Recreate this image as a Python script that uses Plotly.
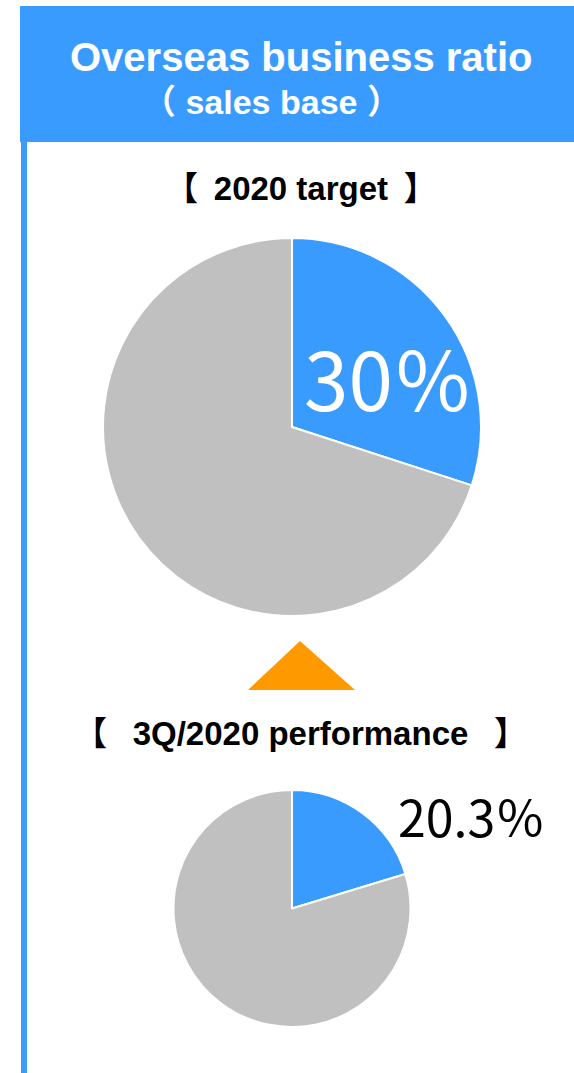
import plotly.graph_objects as go

W, H = 574, 1073

title_line1 = "Overseas business ratio"
title_line2 = "（ sales base ）"
label_target = "【\u2009 2020 target \u2009】"
label_perf = "【\u2002 3Q/2020 performance \u2002】"

segments = ["Overseas", "Domestic"]
target_values = [30, 70]
perf_values = [20.3, 79.7]
target_text = "30％"
perf_text = "20.3％"

BLUE = "#3A9BFF"
GRAY = "#C0C0C0"
ORANGE = "#FF9900"

def px(x):
    return x / W

def py(y):
    return 1 - y / H

fig = go.Figure()

fig.add_trace(go.Pie(
    labels=segments, values=target_values, sort=False, direction="clockwise",
    rotation=0, textinfo="none", hoverinfo="label+percent",
    marker=dict(colors=[BLUE, GRAY], line=dict(color="white", width=2)),
    domain=dict(x=[px(103), px(481)], y=[py(616), py(238)]),
    showlegend=False,
))
fig.add_trace(go.Pie(
    labels=segments, values=perf_values, sort=False, direction="clockwise",
    rotation=0, textinfo="none", hoverinfo="label+percent",
    marker=dict(colors=[BLUE, GRAY], line=dict(color="white", width=2)),
    domain=dict(x=[px(173.5), px(410.5)], y=[py(1027), py(790)]),
    showlegend=False,
))

shapes = [
    dict(type="rect", xref="paper", yref="paper", x0=px(20), x1=1.0, y0=py(142), y1=py(6),
         fillcolor=BLUE, line=dict(width=0), layer="below"),
    dict(type="rect", xref="paper", yref="paper", x0=px(21), x1=px(27), y0=0, y1=py(142),
         fillcolor=BLUE, line=dict(width=0), layer="below"),
    dict(type="path", xref="paper", yref="paper",
         path=f"M {px(248)} {py(690)} L {px(300)} {py(641)} L {px(355)} {py(690)} Z",
         fillcolor=ORANGE, line=dict(width=0)),
]

latin_font = "Liberation Sans, Arial, Noto Sans CJK JP, sans-serif"
cjk_font = "Noto Sans CJK JP, sans-serif"

annotations = [
    dict(text=f"<b>{title_line1}</b>", x=px(301), y=py(57), xref="paper", yref="paper",
         showarrow=False, font=dict(family=latin_font, size=40, color="white"),
         xanchor="center", yanchor="middle"),
    dict(text=f"<b>{title_line2}</b>", x=px(271), y=py(102), xref="paper", yref="paper",
         showarrow=False, font=dict(family=latin_font, size=34, color="white"),
         xanchor="center", yanchor="middle"),
    dict(text=f"<b>{label_target}</b>", x=px(301), y=py(189), xref="paper", yref="paper",
         showarrow=False, font=dict(family=latin_font, size=33, color="black"),
         xanchor="center", yanchor="middle"),
    dict(text=f"<b>{label_perf}</b>", x=px(300), y=py(733), xref="paper", yref="paper",
         showarrow=False, font=dict(family=latin_font, size=33, color="black"),
         xanchor="center", yanchor="middle"),
    dict(text=target_text, x=px(388), y=py(376), xref="paper", yref="paper",
         showarrow=False, font=dict(family=cjk_font, size=80, color="white"),
         xanchor="center", yanchor="middle"),
    dict(text=perf_text, x=px(471), y=py(815), xref="paper", yref="paper",
         showarrow=False, font=dict(family=cjk_font, size=50, color="black"),
         xanchor="center", yanchor="middle"),
]

fig.update_layout(
    width=W, height=H, margin=dict(l=0, r=0, t=0, b=0),
    paper_bgcolor="white", plot_bgcolor="white",
    shapes=shapes, annotations=annotations,
)

fig.write_html("out.html")
